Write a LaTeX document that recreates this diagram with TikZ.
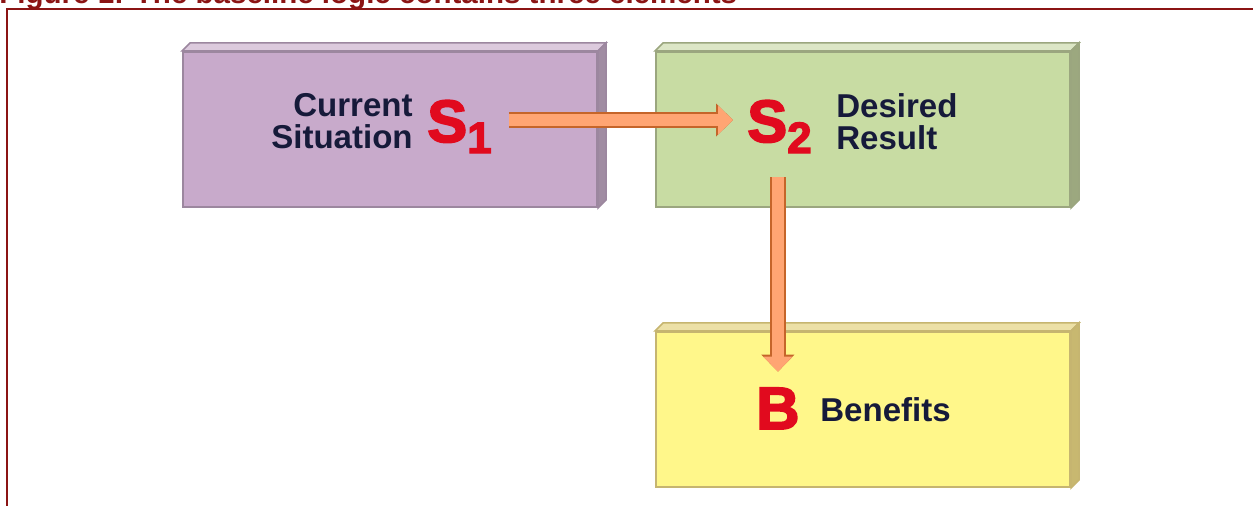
\documentclass[tikz,border=0pt]{standalone}
\usepackage{fontspec}
\setmainfont{Liberation Sans}
\newfontfamily\symfont[FakeBold=3]{Liberation Sans Bold}
\usetikzlibrary{arrows.meta}
\definecolor{framered}{HTML}{8B1414}
\definecolor{ink}{HTML}{161A3A}
\definecolor{symred}{HTML}{E10A1E}
\definecolor{arrowfill}{HTML}{FFA573}
\definecolor{arrowedge}{HTML}{C5652A}
\definecolor{purpface}{HTML}{C8AACB}
\definecolor{purpedge}{HTML}{9C879F}
\definecolor{purptop}{HTML}{DCCADD}
\definecolor{purpside}{HTML}{A08CA2}
\definecolor{grnface}{HTML}{C8DCA3}
\definecolor{grnedge}{HTML}{9BA67F}
\definecolor{grntop}{HTML}{DCE6C6}
\definecolor{grnside}{HTML}{9CA87F}
\definecolor{yelface}{HTML}{FFF78A}
\definecolor{yeledge}{HTML}{C6B570}
\definecolor{yeltop}{HTML}{ECE0A6}
\definecolor{yelside}{HTML}{C8B870}
\newcommand{\symsub}[1]{\raisebox{-6.3pt}{\fontsize{25pt}{25pt}\selectfont #1}}

\begin{document}
\begin{tikzpicture}[x=0.2mm, y=-0.2mm,
    face/.style={draw, line width=0.4mm, minimum width=82.8mm,
                 minimum height=31mm, inner sep=0pt},
    lbl/.style={inner sep=0pt, text=ink,
                font=\fontsize{18.8pt}{18.2pt}\selectfont\bfseries},
    sym/.style={inner sep=0pt, text=symred, text height=25pt, text depth=0pt,
                font=\fontsize{34pt}{34pt}\selectfont\symfont},
    ttl/.style={inner sep=0pt, text=framered,
                font=\fontsize{16.8pt}{16.8pt}\selectfont\bfseries},
    fat/.style={draw=arrowfill, line width=2.4mm,
                -{Triangle[width=5.6mm, length=3.0mm]},
                preaction={draw=arrowedge, line width=3.2mm,
                           -{Triangle[width=6.4mm, length=3.4mm]}}}
  ]
  \useasboundingbox (0,0) rectangle (1253,506);
  \clip (0,0) rectangle (1253,506);

  % caption and frame
  \node[ttl, anchor=base west] (cap) at (-1,4)
    {Figure 1: The baseline logic contains three elements};
  \draw[framered, line width=0.5mm] (7,506) -- (7,9) -- (1253,9);

  % boxes
  \node[face, fill=purpface, draw=purpedge] (cur) at (390,129.5) {};
  \node[face, fill=grnface,  draw=grnedge]  (des) at (863,129.5) {};
  \node[face, fill=yelface,  draw=yeledge]  (ben) at (863,409.5) {};
  \foreach \bx/\tp/\sd/\eg in {cur/purptop/purpside/purpedge,
                               des/grntop/grnside/grnedge,
                               ben/yeltop/yelside/yeledge}{
    \filldraw[fill=\tp, draw=\eg, line width=0.3mm]
      (\bx.north west) -- ++(8,-8) -- ([shift={(8,-8)}]\bx.north east)
      -- (\bx.north east) -- cycle;
    \filldraw[fill=\sd, draw=\eg, line width=0.3mm]
      (\bx.north east) -- ++(8,-8) -- ([shift={(8,-8)}]\bx.south east)
      -- (\bx.south east) -- cycle;
  }

  % texts
  \node[lbl, align=right, anchor=north east] (curtxt) at (413,93)
    {Current\\Situation};
  \node[lbl, align=left, anchor=north west] (destxt) at (836,93)
    {Desired\\Result};
  \node[lbl, anchor=base west] (bentxt) at (820,421) {Benefits};

  \node[sym, anchor=base west] (s1) at (427,142) {S\symsub{1}};
  \node[sym, anchor=base west] (s2) at (747,142) {S\symsub{2}};
  \node[sym, anchor=base west] (bsym) at (756,429) {B};

  % arrows
  \draw[fat, shorten <=3.4mm, shorten >=2.8mm] (s1.east) -- (s2.west);
  \draw[fat, shorten <=7mm, shorten >=2.6mm] (s2.south -| bsym.north) -- (bsym.north);
\end{tikzpicture}
\end{document}
